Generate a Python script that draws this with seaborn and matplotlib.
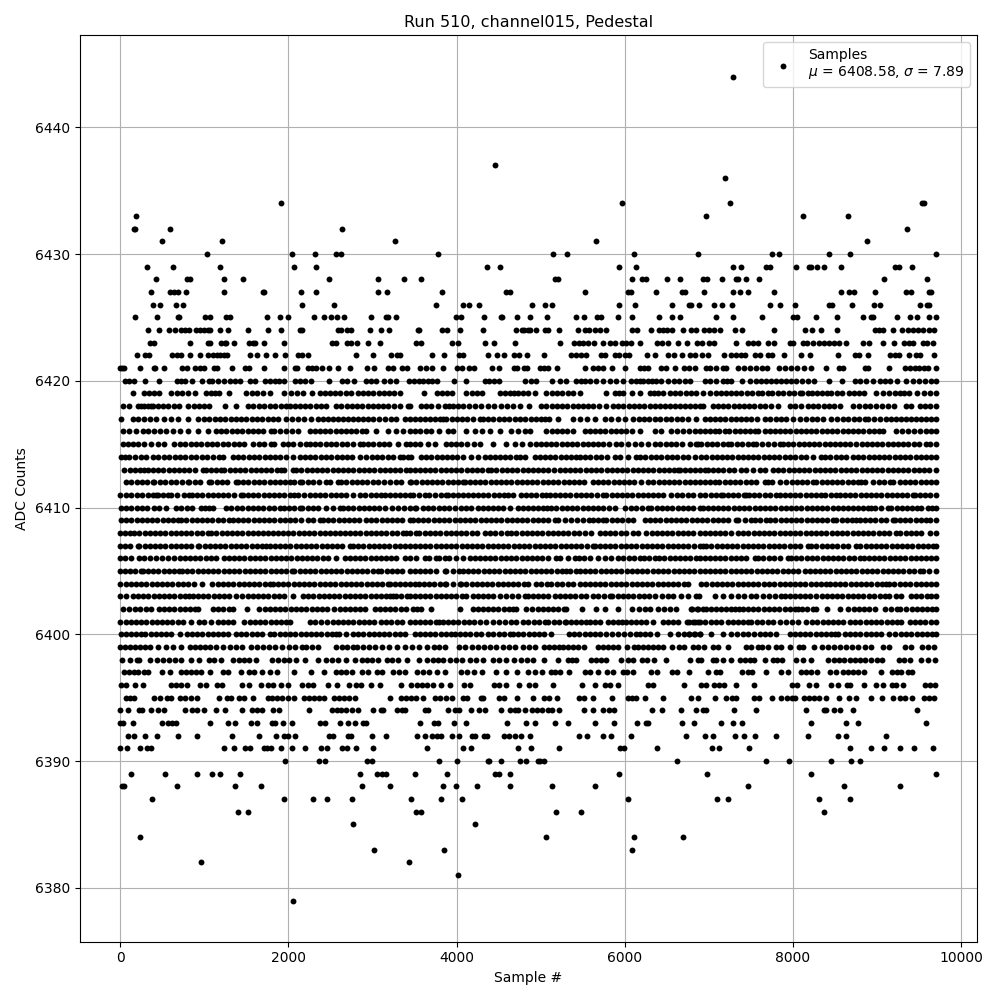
import matplotlib
matplotlib.use("Agg")
import matplotlib.pyplot as plt
import seaborn as sns
import pandas as pd

# sample numbers, one list per ADC level
level_outer = {
    6444: [7286],
    6437: [4462],
    6436: [7191],
    6434: [1914, 5964, 7251, 9537, 9561],
    6433: [187, 6965, 8120, 8656],
    6432: [159, 179, 592, 2640, 9359],
    6431: [496, 1211, 3271, 5655, 8882],
    6430: [1032, 2045, 2318, 2569, 2620, 3783, 5142, 5309, 6107, 6869, 7751, 7834, 8430, 8680, 9700],
    6429: [318, 627, 1187, 2068, 2330, 4367, 4522, 5929, 6131, 7286, 7382, 7679, 7727, 8037, 8191, 8215, 8287, 8370, 8573, 9216, 9263, 9418],
    6428: [425, 794, 834, 1235, 1461, 2485, 3069, 3378, 3581, 5166, 5202, 6083, 6202, 6250, 6500, 6655, 6929, 6977, 7155, 7322, 7346, 7441, 7596, 9085, 9597],
    6427: [365, 592, 639, 687, 782, 1235, 1695, 1715, 2152, 2330, 3069, 3176, 3831, 4593, 4641, 5524, 6036, 6071, 6369, 6679, 6715, 6941, 7286, 7370, 7465, 7775, 8573, 8668, 8727, 8978, 9347, 9406, 9620, 9644],
    6426: [389, 472, 663, 746, 2164, 2545, 3760, 4081, 4153, 4272, 4903, 5047, 5131, 5929, 6119, 6560, 6762, 6786, 6881, 7060, 7155, 7274, 7727, 7846, 8025, 8430, 8465, 8704, 8966, 9037, 9513, 9597, 9620],
    6425: [175, 437, 687, 699, 1008, 1068, 1258, 1310, 1747, 1902, 1997, 2307, 2426, 2509, 2581, 2664, 2985, 3164, 3188, 3283, 3998, 4057, 4331, 4534, 4546, 4724, 4879, 5071, 5416, 5512, 5666, 5714, 5917, 6083, 6405, 6560, 6655, 7084, 7286, 7632, 8001, 8048, 8275, 8525, 8835, 8930, 8954, 9240, 9394, 9478, 9620, 9700],
    6424: [330, 461, 580, 651, 723, 770, 818, 901, 949, 996, 1044, 1068, 1187, 1282, 1521, 1759, 1914, 2140, 2164, 2592, 2628, 2700, 2747, 2974, 3104, 3200, 3545, 3557, 3831, 3891, 4045, 4319, 4712, 4784, 4808, 4855, 4879, 4950, 5047, 5083, 5214, 5440, 5524, 5571, 5643, 5702, 5774, 6083, 6143, 6310, 6405, 6453, 6500, 6560, 6691, 6786, 6846, 6941, 7000, 7060, 7131, 7310, 7394, 7775, 8144, 8227, 8334, 8525, 8978, 9025, 9073, 9192, 9299, 9370, 9430, 9490, 9549, 9620, 9680],
    6423: [349, 397, 830, 1044, 1068, 1199, 1247, 1258, 1354, 1532, 1580, 1604, 1711, 1949, 2521, 2569, 2700, 2747, 2819, 2950, 3093, 3521, 3581, 3950, 4021, 4343, 4450, 4700, 5226, 5393, 5452, 5500, 5559, 5631, 5738, 5821, 5881, 5964, 6012, 6071, 6179, 6381, 6441, 6512, 6631, 6738, 6857, 6917, 7000, 7060, 7322, 7465, 7524, 7584, 7703, 7775, 7965, 8001, 8120, 8168, 8239, 8310, 8370, 8430, 8489, 8549, 8632, 8835, 8906, 9073, 9204, 9323, 9382, 9430, 9549, 9597, 9668],
    6422: [199, 294, 341, 615, 675, 723, 830, 949, 1044, 1104, 1151, 1187, 1235, 1270, 1544, 1628, 1735, 1842, 1961, 2116, 2164, 2235, 2807, 3009, 3224, 3295, 3331, 3712, 3855, 4033, 4081, 4379, 4486, 4569, 4688, 4748, 4843, 5035, 5357, 5416, 5476, 5536, 5714, 5762, 5881, 5929, 6000, 6048, 6262, 6357, 6512, 6584, 6679, 6774, 6834, 6917, 6989, 7179, 7262, 7322, 7382, 7429, 7548, 7608, 7703, 7751, 7894, 8096, 8203, 8537, 8739, 8787, 8894, 9156, 9216, 9263, 9382, 9466, 9513, 9680],
    6421: [0, 24, 48, 234, 397, 417, 520, 734, 794, 889, 949, 996, 1115, 1151, 1326, 1481, 1532, 1711, 1949, 2080, 2104, 2235, 2283, 2330, 2402, 2485, 2592, 2735, 2938, 3021, 3188, 3247, 3355, 3414, 3569, 3640, 3712, 3843, 4010, 4069, 4149, 4208, 4427, 4510, 4688, 4724, 4808, 4843, 4996, 5043, 5091, 5190, 5524, 5619, 5678, 5738, 5845, 6000, 6179, 6226, 6274, 6429, 6488, 6596, 6703, 6762, 6834, 6965, 7012, 7084, 7167, 7203, 7346, 7417, 7489, 7560, 7632, 7691, 7834, 7906, 7977, 8048, 8132, 8215, 8394, 8549, 8596, 8858, 8894, 9144, 9335, 9394, 9454, 9501, 9561, 9609, 9700],
    6399: [0, 60, 119, 178, 238, 298, 357, 449, 544, 627, 723, 830, 889, 949, 1008, 1068, 1139, 1223, 1306, 1377, 1449, 1556, 1628, 1699, 1771, 1846, 1925, 2005, 2084, 2156, 2211, 2283, 2354, 2569, 2640, 2700, 2771, 2819, 2890, 2962, 3033, 3116, 3200, 3295, 3390, 3474, 3557, 3652, 3736, 3795, 3867, 4033, 4105, 4188, 4260, 4331, 4403, 4474, 4557, 4629, 4700, 4796, 4867, 4939, 5035, 5095, 5155, 5214, 5262, 5321, 5381, 5440, 5512, 5678, 5738, 5797, 5857, 5917, 6024, 6107, 6155, 6214, 6274, 6333, 6393, 6453, 6560, 6643, 6703, 6810, 6869, 6941, 7048, 7108, 7227, 7441, 7501, 7584, 7632, 7703, 7798, 7858, 7965, 8072, 8120, 8251, 8346, 8418, 8489, 8561, 8632, 8704, 8775, 8858, 8930, 9073, 9144, 9335, 9406, 9537, 9609, 9680],
    6398: [20, 115, 199, 222, 353, 437, 508, 580, 651, 723, 842, 937, 1056, 1115, 1199, 1342, 1413, 1473, 1532, 1616, 1806, 1878, 1949, 2009, 2092, 2203, 2354, 2449, 2521, 2592, 2688, 2795, 2878, 2938, 2997, 3069, 3176, 3235, 3307, 3414, 3557, 3652, 3724, 3783, 3843, 3926, 3998, 4069, 4165, 4236, 4319, 4438, 4510, 4593, 4680, 4772, 4843, 4915, 5035, 5202, 5321, 5369, 5416, 5595, 5655, 5714, 5774, 5952, 6036, 6095, 6202, 6262, 6345, 6488, 6774, 6869, 6905, 7048, 7084, 7167, 7262, 7370, 7429, 7489, 7536, 7667, 7763, 7810, 7870, 8037, 8120, 8215, 8418, 8489, 8549, 8608, 8680, 8739, 8799, 8858, 8930, 9001, 9061, 9263, 9323, 9394, 9525, 9609, 9692],
    6397: [44, 99, 163, 210, 282, 330, 496, 592, 723, 782, 842, 901, 961, 1068, 1223, 1282, 1433, 1532, 1592, 1687, 1783, 1862, 2064, 2267, 2426, 2569, 2628, 2688, 2759, 2878, 2950, 3057, 3116, 3247, 3319, 3390, 3533, 3605, 3676, 3771, 3867, 4057, 4129, 4212, 4307, 4474, 4593, 4724, 4855, 4939, 5015, 5119, 5166, 5226, 5333, 5524, 5583, 5678, 5786, 5857, 5976, 6024, 6095, 6310, 6381, 6560, 6619, 6762, 6989, 7084, 7131, 7394, 7465, 7512, 7679, 7858, 7941, 8096, 8156, 8215, 8287, 8442, 8513, 8597, 8656, 8716, 8775, 8847, 9049, 9180, 9240, 9287, 9371, 9418],
    6396: [8, 67, 175, 270, 603, 663, 723, 794, 949, 1020, 1151, 1211, 1449, 1532, 1675, 1759, 1818, 1914, 1997, 2164, 2235, 2295, 2473, 2581, 2723, 2807, 2866, 2985, 3093, 3343, 3462, 3533, 3593, 3652, 3724, 3819, 3926, 4093, 4165, 4450, 4510, 4593, 4748, 4867, 4939, 5142, 5488, 5643, 5762, 5821, 5917, 6274, 6333, 6703, 6905, 6965, 7060, 7120, 7179, 7322, 7536, 7989, 8048, 8191, 8275, 8453, 8537, 8644, 8680, 8847, 8990, 9073, 9180, 9228, 9311, 9573, 9632, 9692],
    6395: [67, 115, 163, 401, 472, 556, 603, 711, 770, 842, 913, 1175, 1270, 1318, 1413, 1473, 1580, 1759, 1806, 1866, 1925, 1997, 2068, 2187, 2247, 2307, 2366, 2426, 2545, 2604, 2664, 2724, 2795, 3212, 3343, 3402, 3462, 3521, 3605, 3748, 3807, 3879, 3950, 4081, 4129, 4296, 4319, 4510, 4569, 4724, 4915, 5035, 5095, 5190, 5452, 5512, 5619, 5845, 6036, 6083, 6131, 6238, 6453, 6786, 6869, 7072, 7203, 7274, 7322, 7536, 7596, 7751, 7858, 7929, 7989, 8025, 8132, 8191, 8251, 8310, 8394, 8549, 8668, 8751, 8930, 9061, 9192, 9275, 9335, 9418, 9561, 9620, 9680],
    6394: [0, 91, 222, 258, 365, 449, 520, 770, 853, 913, 996, 1139, 1247, 1449, 1568, 1628, 1687, 1818, 1890, 2243, 2521, 2581, 2628, 2688, 2759, 2831, 3009, 3104, 3128, 3295, 3355, 3390, 3629, 3664, 3902, 3986, 4033, 4176, 4272, 4343, 4534, 4641, 4700, 4736, 4820, 4903, 4962, 5015, 5083, 5135, 5214, 5512, 5619, 5738, 5809, 5869, 6322, 6441, 6667, 6846, 6929, 6965, 7298, 7560, 8156, 8370, 8394, 8489, 8561, 8716, 9478],
    6393: [0, 32, 151, 496, 568, 615, 663, 1068, 1282, 1366, 1556, 1628, 1806, 1842, 1937, 2045, 2378, 2438, 2616, 2712, 2795, 2890, 2926, 3565, 3736, 3783, 3974, 4117, 4605, 4832, 4939, 5166, 5321, 5643, 5869, 6143, 6250, 6274, 6679, 6822, 7143, 7286, 7394, 8215, 8632, 8775, 9585],
    6392: [91, 163, 294, 437, 687, 913, 1330, 1651, 1854, 1949, 1997, 2080, 2485, 2533, 2712, 2747, 2997, 3164, 3533, 3629, 3712, 3771, 3819, 3950, 4033, 4188, 4224, 4331, 4367, 4569, 4629, 4700, 4772, 4879, 5452, 5547, 5738, 5833, 6071, 6727, 6953, 7048, 7310, 7417, 7548, 7798, 8179, 8537, 8632, 9109],
    6391: [0, 79, 234, 318, 365, 1235, 1354, 1485, 1544, 1711, 1747, 1794, 1906, 2045, 2199, 2390, 2461, 2640, 2700, 2807, 3009, 3652, 4081, 4176, 4736, 4891, 5214, 5940, 5988, 6381, 7036, 7120, 7477, 8680, 8930, 9085, 9275, 9442, 9668],
    6390: [1961, 2366, 2438, 2938, 2997, 3795, 4010, 4379, 4391, 4534, 4760, 4832, 4974, 4996, 5043, 6619, 7679, 7953, 8453, 8692, 8799],
    6389: [127, 532, 913, 1092, 1187, 1425, 2854, 3057, 3116, 3164, 3510, 3891, 4462, 4510, 4641, 5929, 6977, 8215, 9704],
    6388: [24, 48, 675, 1366, 1675, 2878, 3212, 3843, 3998, 4248, 4641, 5131, 5643, 7465, 8608, 9275],
    6387: [377, 1949, 2295, 2461, 2759, 3462, 3819, 4069, 6036, 7096, 7227, 8311, 8680],
    6386: [1401, 1521, 3521, 3581, 5178, 5476, 8370],
    6385: [2771, 4224],
    6384: [234, 5059, 6107, 6691],
    6383: [3021, 3855, 6083],
    6382: [961, 3438],
    6381: [4021],
    6379: [2056],
}

level_6420 = [52, 105, 159, 298, 457, 675, 725, 774, 853, 970, 1052, 1091, 1160, 1230, 1310, 1370, 1429, 1548, 1608, 1727, 1780, 1835, 1886, 1945, 2084, 2140, 2200, 2263, 2485, 2640, 2700, 2779, 2918, 2978, 3037, 3136, 3205, 3275, 3440, 3495, 3551, 3599, 3655, 3710, 3765, 3968, 4111, 4333, 4390, 4447, 4504, 4810, 4889, 4949, 5135, 5234, 5306, 5425, 5480, 5530, 5584, 5655, 5743, 5822, 5901, 5981, 6080, 6130, 6179, 6219, 6272, 6325, 6378, 6437, 6517, 6583, 6649, 6715, 6775, 6950, 7020, 7089, 7168, 7218, 7267, 7394, 7486, 7565, 7620, 7676, 7744, 7804, 7863, 7923, 7982, 8041, 8110, 8179, 8248, 8430, 8585, 8736, 8800, 8870, 8954, 9034, 9094, 9153, 9240, 9352, 9425, 9498, 9570, 9649, 9700]
level_6419 = [155, 286, 345, 405, 465, 603, 670, 735, 802, 885, 1020, 1073, 1126, 1179, 1290, 1497, 1563, 1629, 1695, 1783, 1953, 2026, 2099, 2172, 2279, 2370, 2430, 2490, 2549, 2608, 2688, 2747, 2827, 2886, 2950, 3012, 3074, 3136, 3198, 3260, 3323, 3607, 3766, 3827, 3888, 3948, 4115, 4178, 4241, 4305, 4520, 4575, 4631, 4679, 4736, 4793, 4849, 4929, 5068, 5131, 5194, 5257, 5320, 5385, 5473, 5782, 5882, 5931, 5981, 6092, 6179, 6298, 6348, 6398, 6457, 6537, 6600, 6664, 6728, 6790, 6850, 6930, 7017, 7081, 7142, 7204, 7265, 7327, 7386, 7452, 7518, 7585, 7636, 7704, 7756, 7821, 7886, 7951, 8016, 8081, 8113, 8180, 8232, 8290, 8348, 8407, 8458, 8523, 8589, 8669, 8727, 8785, 8843, 8994, 9074, 9144, 9213, 9272, 9328, 9383, 9478, 9558, 9630, 9700]
level_6418 = [28, 107, 206, 246, 286, 325, 365, 385, 445, 505, 565, 640, 703, 802, 881, 941, 1000, 1060, 1250, 1378, 1517, 1583, 1649, 1715, 1775, 1841, 1907, 1973, 2013, 2075, 2138, 2200, 2262, 2325, 2387, 2450, 2569, 2631, 2693, 2755, 2817, 2879, 2941, 3003, 3065, 3124, 3190, 3256, 3323, 3422, 3452, 3579, 3638, 3698, 3777, 3857, 3910, 3963, 4016, 4075, 4145, 4214, 4294, 4373, 4444, 4532, 4600, 4671, 4758, 4861, 5008, 5070, 5132, 5194, 5256, 5318, 5380, 5442, 5504, 5566, 5628, 5690, 5782, 5862, 5924, 5986, 6048, 6110, 6172, 6234, 6296, 6358, 6418, 6477, 6537, 6597, 6657, 6717, 6777, 6837, 6894, 6930, 7049, 7110, 7172, 7234, 7296, 7358, 7420, 7482, 7544, 7605, 7664, 7744, 7823, 7962, 8031, 8101, 8180, 8240, 8303, 8366, 8430, 8494, 8558, 8716, 8785, 8855, 8915, 8986, 9058, 9130, 9201, 9352, 9411, 9510, 9570, 9635, 9700]
level_6417 = [8, 147, 215, 283, 351, 425, 524, 603, 683, 802, 921, 1000, 1060, 1123, 1186, 1249, 1312, 1375, 1438, 1501, 1564, 1627, 1690, 1752, 1814, 1874, 1973, 2045, 2118, 2191, 2264, 2350, 2410, 2470, 2530, 2590, 2650, 2710, 2770, 2830, 2890, 2946, 3005, 3075, 3145, 3215, 3283, 3382, 3442, 3500, 3560, 3620, 3680, 3740, 3800, 3837, 3877, 3940, 4003, 4066, 4129, 4192, 4274, 4313, 4376, 4439, 4502, 4565, 4628, 4691, 4754, 4817, 4880, 4943, 5006, 5048, 5099, 5207, 5385, 5470, 5555, 5643, 5762, 5842, 5922, 6001, 6100, 6165, 6230, 6295, 6360, 6425, 6490, 6555, 6620, 6685, 6750, 6854, 6950, 7012, 7074, 7136, 7198, 7260, 7322, 7384, 7446, 7508, 7570, 7664, 7724, 7795, 7863, 7922, 8000, 8081, 8160, 8226, 8292, 8359, 8458, 8525, 8592, 8659, 8726, 8793, 8855, 8895, 8968, 9040, 9113, 9173, 9232, 9292, 9352, 9410, 9468, 9526, 9584, 9642, 9700]
level_6416 = [28, 107, 187, 266, 335, 405, 474, 544, 623, 712, 802, 921, 1040, 1139, 1199, 1262, 1325, 1388, 1451, 1514, 1577, 1640, 1695, 1794, 1834, 1894, 1967, 2040, 2112, 2251, 2313, 2375, 2437, 2499, 2561, 2623, 2685, 2747, 2809, 2871, 2926, 3045, 3184, 3283, 3362, 3442, 3500, 3570, 3640, 3698, 3797, 3897, 3956, 4107, 4214, 4303, 4393, 4512, 4651, 4730, 4810, 4877, 5068, 5130, 5192, 5254, 5316, 5385, 5524, 5586, 5648, 5710, 5772, 5834, 5896, 5958, 6020, 6082, 6179, 6358, 6437, 6556, 6625, 6690, 6760, 6831, 6894, 6950, 7010, 7069, 7128, 7188, 7247, 7307, 7367, 7427, 7487, 7545, 7585, 7664, 7724, 7786, 7848, 7910, 7972, 8034, 8096, 8158, 8220, 8282, 8344, 8406, 8468, 8530, 8592, 8654, 8716, 8778, 8840, 8902, 8964, 9026, 9074, 9232, 9300, 9370, 9440, 9510, 9590, 9649, 9700]
level_6415 = [28, 87, 147, 215, 286, 365, 445, 524, 643, 707, 771, 835, 899, 963, 1027, 1091, 1155, 1219, 1283, 1347, 1411, 1477, 1577, 1645, 1715, 1794, 1834, 1933, 1993, 2052, 2132, 2211, 2251, 2315, 2379, 2443, 2507, 2571, 2635, 2699, 2763, 2847, 2886, 2946, 3010, 3074, 3138, 3202, 3303, 3402, 3442, 3500, 3567, 3658, 3738, 3877, 3936, 3995, 4055, 4123, 4202, 4282, 4432, 4591, 4691, 4780, 4869, 4941, 5003, 5065, 5127, 5189, 5251, 5313, 5375, 5437, 5499, 5561, 5623, 5685, 5747, 5809, 5901, 5961, 6040, 6120, 6200, 6279, 6358, 6425, 6490, 6556, 6616, 6680, 6775, 6874, 6850, 6913, 6976, 7039, 7102, 7165, 7228, 7267, 7332, 7397, 7462, 7525, 7565, 7635, 7705, 7775, 7843, 7883, 7945, 8007, 8069, 8131, 8193, 8255, 8317, 8379, 8441, 8503, 8565, 8627, 8677, 8756, 8818, 8880, 8942, 9004, 9066, 9128, 9190, 9252, 9314, 9376, 9438, 9500, 9590, 9630, 9700]
level_6414 = [8, 57, 107, 179, 246, 306, 385, 450, 515, 580, 645, 710, 775, 840, 905, 970, 1035, 1100, 1179, 1219, 1338, 1401, 1464, 1527, 1590, 1653, 1716, 1779, 1842, 1905, 1973, 2052, 2132, 2195, 2258, 2321, 2384, 2447, 2510, 2573, 2636, 2699, 2762, 2847, 2926, 2990, 3054, 3118, 3182, 3246, 3323, 3362, 3422, 3460, 3579, 3638, 3700, 3762, 3824, 3886, 3948, 4010, 4075, 4174, 4253, 4333, 4393, 4455, 4517, 4579, 4641, 4703, 4750, 4810, 4929, 4991, 5053, 5115, 5177, 5239, 5301, 5363, 5425, 5465, 5524, 5590, 5655, 5720, 5785, 5881, 5941, 6040, 6140, 6179, 6245, 6310, 6378, 6437, 6500, 6563, 6626, 6689, 6752, 6834, 6910, 6972, 7034, 7096, 7158, 7220, 7282, 7344, 7406, 7468, 7530, 7592, 7654, 7716, 7778, 7840, 7902, 7964, 8026, 8101, 8160, 8240, 8339, 8379, 8445, 8511, 8577, 8637, 8716, 8778, 8840, 8902, 8964, 9026, 9088, 9150, 9212, 9274, 9336, 9398, 9460, 9522, 9584, 9646, 9700]
level_6413 = [48, 110, 172, 234, 286, 326, 388, 450, 512, 574, 636, 698, 760, 822, 884, 981, 1020, 1080, 1140, 1199, 1239, 1301, 1363, 1425, 1487, 1549, 1611, 1673, 1735, 1797, 1859, 1914, 1953, 2052, 2092, 2154, 2216, 2278, 2340, 2402, 2464, 2526, 2588, 2650, 2712, 2774, 2836, 2898, 2960, 3022, 3084, 3146, 3208, 3270, 3332, 3402, 3442, 3500, 3562, 3624, 3686, 3748, 3810, 3872, 3934, 3996, 4058, 4120, 4182, 4244, 4306, 4373, 4413, 4475, 4537, 4599, 4661, 4723, 4785, 4847, 4909, 4971, 5033, 5088, 5155, 5226, 5288, 5350, 5412, 5474, 5536, 5598, 5660, 5722, 5784, 5846, 5908, 5970, 6032, 6094, 6156, 6218, 6280, 6342, 6404, 6466, 6528, 6590, 6636, 6656, 6718, 6780, 6842, 6894, 6950, 6989, 7051, 7113, 7175, 7237, 7299, 7386, 7446, 7525, 7605, 7664, 7764, 7826, 7888, 7950, 8012, 8074, 8136, 8198, 8260, 8322, 8384, 8446, 8508, 8570, 8632, 8694, 8756, 8818, 8880, 8942, 9004, 9066, 9128, 9190, 9252, 9314, 9376, 9438, 9500, 9562, 9624, 9700]
level_6412 = [67, 130, 193, 256, 319, 385, 405, 470, 535, 600, 665, 730, 802, 822, 885, 948, 1060, 1080, 1145, 1210, 1275, 1378, 1397, 1460, 1523, 1586, 1649, 1712, 1775, 1838, 1901, 1964, 2013, 2072, 2132, 2164, 2230, 2296, 2362, 2450, 2490, 2588, 2628, 2690, 2752, 2814, 2876, 2938, 3005, 3065, 3135, 3205, 3283, 3343, 3442, 3460, 3522, 3584, 3646, 3708, 3770, 3832, 3894, 3956, 4018, 4075, 4095, 4157, 4219, 4281, 4343, 4405, 4467, 4529, 4591, 4653, 4715, 4777, 4839, 4901, 4963, 5025, 5087, 5149, 5211, 5273, 5335, 5397, 5459, 5521, 5624, 5683, 5745, 5807, 5869, 5931, 5993, 6055, 6117, 6199, 6279, 6341, 6403, 6465, 6527, 6589, 6651, 6713, 6775, 6837, 6894, 6950, 7010, 7069, 7128, 7190, 7252, 7314, 7376, 7438, 7500, 7562, 7664, 7704, 7756, 7843, 7922, 7985, 8048, 8111, 8174, 8240, 8280, 8342, 8404, 8466, 8528, 8590, 8652, 8714, 8776, 8815, 8855, 8954, 9020, 9086, 9152, 9193, 9272, 9334, 9396, 9458, 9520, 9582, 9644, 9700]
level_6411 = [0, 65, 130, 195, 260, 325, 390, 425, 445, 505, 564, 603, 680, 760, 822, 853, 915, 977, 1039, 1101, 1163, 1225, 1287, 1349, 1437, 1457, 1519, 1581, 1643, 1705, 1767, 1829, 1891, 1953, 2015, 2072, 2112, 2191, 2253, 2315, 2377, 2439, 2501, 2563, 2625, 2687, 2767, 2847, 2912, 2977, 3042, 3105, 3144, 3206, 3268, 3330, 3392, 3442, 3480, 3559, 3619, 3678, 3745, 3812, 3877, 3897, 3957, 4017, 4077, 4135, 4194, 4256, 4318, 4380, 4442, 4504, 4566, 4611, 4671, 4770, 4830, 4889, 4950, 5011, 5068, 5107, 5169, 5231, 5293, 5355, 5417, 5479, 5541, 5603, 5665, 5743, 5782, 5844, 5906, 5968, 6030, 6092, 6154, 6216, 6278, 6340, 6402, 6457, 6556, 6620, 6684, 6748, 6812, 6894, 6960, 7024, 7088, 7148, 7168, 7230, 7292, 7354, 7416, 7446, 7478, 7541, 7604, 7667, 7730, 7803, 7843, 7905, 7967, 8029, 8091, 8153, 8215, 8277, 8339, 8379, 8450, 8518, 8558, 8620, 8682, 8744, 8806, 8868, 8930, 8992, 9054, 9116, 9178, 9240, 9302, 9364, 9431, 9451, 9513, 9575, 9637, 9700]
level_6410 = [8, 67, 130, 193, 256, 319, 405, 465, 544, 663, 726, 790, 854, 961, 1004, 1050, 1100, 1258, 1322, 1386, 1450, 1514, 1576, 1636, 1700, 1767, 1826, 1894, 1953, 2012, 2072, 2132, 2164, 2230, 2296, 2350, 2442, 2525, 2608, 2648, 2710, 2772, 2834, 2896, 2958, 3020, 3082, 3144, 3236, 3305, 3374, 3442, 3500, 3520, 3599, 3662, 3725, 3788, 3851, 3914, 3976, 4055, 4115, 4174, 4254, 4314, 4374, 4434, 4492, 4552, 4641, 4730, 4790, 4850, 4910, 4970, 5028, 5076, 5127, 5189, 5251, 5313, 5375, 5437, 5499, 5561, 5623, 5685, 5747, 5809, 5881, 6001, 6070, 6139, 6208, 6279, 6319, 6381, 6443, 6505, 6567, 6629, 6691, 6753, 6815, 6894, 6930, 6989, 7049, 7111, 7173, 7235, 7297, 7359, 7421, 7483, 7545, 7607, 7669, 7731, 7793, 7855, 7917, 7979, 8041, 8103, 8165, 8227, 8289, 8351, 8413, 8475, 8538, 8597, 8656, 8715, 8775, 8835, 8895, 8935, 8974, 9053, 9133, 9173, 9235, 9297, 9359, 9421, 9483, 9530, 9610, 9660, 9700]
level_6409 = [8, 70, 132, 194, 256, 318, 380, 442, 504, 566, 628, 683, 723, 785, 847, 909, 971, 1033, 1095, 1157, 1219, 1298, 1338, 1400, 1462, 1524, 1586, 1648, 1710, 1772, 1834, 1896, 1958, 2020, 2082, 2144, 2231, 2291, 2370, 2410, 2472, 2534, 2596, 2658, 2720, 2782, 2844, 2926, 2985, 3047, 3109, 3171, 3233, 3295, 3357, 3442, 3480, 3542, 3604, 3666, 3728, 3790, 3852, 3914, 3976, 4038, 4100, 4162, 4224, 4286, 4348, 4410, 4472, 4534, 4596, 4658, 4720, 4782, 4844, 4906, 4968, 5030, 5092, 5167, 5207, 5286, 5365, 5435, 5504, 5576, 5624, 5684, 5743, 5782, 5846, 5910, 5974, 6038, 6100, 6239, 6301, 6363, 6425, 6487, 6549, 6611, 6673, 6735, 6797, 6859, 6921, 6983, 7045, 7107, 7169, 7231, 7327, 7347, 7426, 7505, 7545, 7615, 7684, 7724, 7790, 7856, 7922, 7982, 8041, 8103, 8165, 8227, 8289, 8351, 8413, 8478, 8518, 8580, 8642, 8704, 8756, 8796, 8858, 8920, 8982, 9044, 9106, 9193, 9213, 9275, 9337, 9399, 9461, 9523, 9590, 9630, 9700]
level_6408 = [0, 55, 110, 167, 226, 288, 350, 412, 474, 536, 598, 660, 722, 784, 846, 908, 970, 1040, 1080, 1142, 1204, 1266, 1328, 1390, 1452, 1517, 1576, 1636, 1696, 1756, 1814, 1874, 1936, 1998, 2060, 2122, 2184, 2246, 2308, 2370, 2432, 2494, 2549, 2608, 2670, 2732, 2794, 2856, 2918, 2980, 3042, 3104, 3166, 3228, 3290, 3363, 3402, 3442, 3520, 3559, 3621, 3683, 3745, 3807, 3869, 3931, 3993, 4055, 4117, 4179, 4241, 4333, 4393, 4461, 4529, 4597, 4651, 4711, 4773, 4835, 4897, 4959, 5021, 5083, 5145, 5207, 5269, 5331, 5393, 5455, 5524, 5604, 5703, 5765, 5827, 5889, 5951, 6013, 6100, 6159, 6259, 6321, 6383, 6445, 6507, 6569, 6631, 6693, 6755, 6817, 6894, 6950, 7012, 7074, 7136, 7198, 7260, 7347, 7409, 7471, 7533, 7595, 7657, 7719, 7781, 7843, 7905, 7967, 8029, 8091, 8153, 8215, 8277, 8339, 8401, 8463, 8525, 8587, 8649, 8711, 8773, 8835, 8897, 8959, 9021, 9083, 9145, 9232, 9280, 9342, 9404, 9466, 9528, 9630, 9700]
level_6407 = [0, 60, 120, 206, 226, 288, 350, 412, 474, 536, 598, 660, 722, 784, 846, 921, 941, 1003, 1065, 1127, 1189, 1251, 1313, 1375, 1437, 1499, 1561, 1623, 1685, 1735, 1775, 1837, 1899, 1961, 2023, 2085, 2147, 2209, 2271, 2333, 2395, 2457, 2519, 2581, 2643, 2727, 2767, 2829, 2891, 2953, 3015, 3077, 3139, 3201, 3263, 3325, 3387, 3442, 3502, 3564, 3626, 3688, 3750, 3812, 3874, 3936, 3998, 4060, 4122, 4184, 4246, 4308, 4370, 4432, 4494, 4556, 4618, 4680, 4742, 4804, 4866, 4928, 4990, 5052, 5114, 5176, 5238, 5300, 5362, 5424, 5486, 5548, 5624, 5643, 5705, 5767, 5829, 5891, 5953, 6015, 6077, 6139, 6201, 6263, 6325, 6387, 6449, 6511, 6573, 6635, 6697, 6759, 6821, 6894, 6930, 6969, 7031, 7093, 7155, 7217, 7279, 7341, 7403, 7465, 7527, 7589, 7651, 7713, 7775, 7837, 7899, 7961, 8023, 8085, 8180, 8220, 8282, 8344, 8406, 8468, 8530, 8592, 8654, 8756, 8804, 8866, 8928, 8990, 9052, 9114, 9176, 9238, 9300, 9362, 9424, 9486, 9548, 9610, 9672, 9700]
level_6406 = [0, 60, 127, 226, 286, 355, 424, 493, 564, 643, 705, 767, 829, 891, 953, 1015, 1077, 1139, 1239, 1298, 1358, 1417, 1477, 1539, 1601, 1663, 1725, 1787, 1849, 1911, 1973, 2035, 2097, 2159, 2221, 2283, 2345, 2407, 2469, 2569, 2668, 2730, 2792, 2854, 2916, 2978, 3040, 3102, 3164, 3226, 3283, 3382, 3442, 3520, 3619, 3678, 3758, 3797, 3857, 3916, 3996, 4076, 4155, 4214, 4276, 4338, 4400, 4462, 4524, 4586, 4651, 4711, 4773, 4835, 4897, 4959, 5021, 5083, 5187, 5234, 5320, 5405, 5457, 5520, 5584, 5683, 5763, 5842, 5921, 5985, 6049, 6113, 6179, 6227, 6292, 6358, 6410, 6472, 6534, 6596, 6658, 6720, 6782, 6844, 6894, 6950, 7012, 7074, 7136, 7198, 7260, 7322, 7384, 7446, 7545, 7585, 7650, 7715, 7780, 7845, 7942, 7982, 8042, 8101, 8168, 8230, 8292, 8354, 8416, 8478, 8540, 8602, 8664, 8726, 8804, 8843, 8905, 8967, 9029, 9091, 9153, 9215, 9277, 9339, 9401, 9463, 9525, 9587, 9649, 9700]
level_6405 = [0, 60, 120, 180, 246, 266, 328, 390, 452, 514, 576, 638, 703, 734, 796, 858, 920, 982, 1044, 1106, 1168, 1230, 1292, 1354, 1416, 1478, 1540, 1602, 1664, 1726, 1788, 1850, 1912, 1974, 2045, 2072, 2134, 2196, 2258, 2320, 2382, 2444, 2506, 2568, 2630, 2692, 2754, 2816, 2878, 2940, 3002, 3065, 3105, 3167, 3229, 3291, 3353, 3442, 3502, 3564, 3626, 3688, 3750, 3857, 3877, 3952, 4028, 4075, 4137, 4199, 4261, 4323, 4385, 4447, 4509, 4571, 4633, 4695, 4757, 4819, 4881, 4943, 5005, 5067, 5129, 5191, 5253, 5306, 5345, 5425, 5465, 5527, 5589, 5651, 5713, 5775, 5837, 5899, 5961, 6023, 6085, 6147, 6209, 6271, 6333, 6395, 6457, 6519, 6581, 6643, 6705, 6767, 6829, 6894, 6950, 7012, 7074, 7136, 7198, 7260, 7322, 7384, 7446, 7508, 7570, 7632, 7694, 7756, 7818, 7880, 7942, 8004, 8066, 8141, 8200, 8262, 8324, 8386, 8448, 8510, 8572, 8634, 8696, 8758, 8820, 8882, 8944, 9006, 9068, 9130, 9192, 9254, 9316, 9378, 9440, 9510, 9550, 9625, 9700]
level_6404 = [0, 62, 124, 186, 248, 310, 372, 434, 496, 558, 620, 682, 744, 806, 881, 973, 1092, 1159, 1221, 1283, 1345, 1407, 1469, 1531, 1593, 1655, 1717, 1775, 1814, 1876, 1938, 2000, 2062, 2124, 2186, 2248, 2310, 2372, 2434, 2496, 2558, 2620, 2682, 2744, 2806, 2868, 2930, 2992, 3054, 3116, 3184, 3204, 3266, 3328, 3390, 3442, 3500, 3551, 3613, 3675, 3737, 3799, 3857, 3877, 3957, 4036, 4055, 4117, 4179, 4241, 4303, 4365, 4427, 4489, 4551, 4613, 4675, 4737, 4799, 4849, 4941, 5008, 5076, 5127, 5192, 5257, 5322, 5387, 5465, 5524, 5586, 5648, 5710, 5772, 5834, 5896, 5958, 6020, 6082, 6144, 6206, 6268, 6330, 6392, 6454, 6516, 6578, 6640, 6702, 6755, 6910, 6972, 7034, 7096, 7158, 7220, 7282, 7344, 7406, 7468, 7530, 7592, 7654, 7716, 7778, 7843, 7902, 7964, 8026, 8088, 8150, 8212, 8274, 8336, 8399, 8439, 8501, 8563, 8625, 8687, 8749, 8811, 8873, 8935, 8997, 9059, 9113, 9145, 9210, 9275, 9340, 9399, 9463, 9525, 9587, 9649, 9700]
level_6403 = [0, 67, 147, 209, 271, 333, 395, 457, 519, 581, 643, 705, 767, 822, 861, 923, 985, 1047, 1109, 1171, 1233, 1295, 1378, 1449, 1517, 1576, 1638, 1700, 1762, 1824, 1886, 1948, 2052, 2172, 2234, 2296, 2358, 2420, 2482, 2544, 2606, 2668, 2730, 2792, 2854, 2916, 2978, 3040, 3102, 3164, 3204, 3244, 3283, 3345, 3407, 3442, 3502, 3564, 3626, 3688, 3750, 3812, 3874, 3936, 3998, 4060, 4115, 4194, 4254, 4314, 4374, 4433, 4512, 4587, 4662, 4737, 4810, 4849, 4910, 4971, 5032, 5088, 5167, 5229, 5291, 5353, 5415, 5477, 5539, 5624, 5683, 5752, 5822, 5854, 5921, 5981, 6043, 6105, 6167, 6229, 6291, 6358, 6449, 6512, 6576, 6676, 6755, 6854, 6882, 7069, 7168, 7267, 7345, 7425, 7505, 7565, 7644, 7717, 7790, 7863, 7902, 7962, 8022, 8081, 8141, 8200, 8280, 8342, 8404, 8466, 8528, 8590, 8652, 8716, 8776, 8840, 8904, 8968, 9032, 9093, 9145, 9232, 9292, 9411, 9471, 9530, 9598, 9650, 9700]
level_6402 = [28, 107, 179, 240, 301, 365, 457, 519, 581, 643, 705, 767, 829, 891, 921, 1100, 1160, 1225, 1290, 1346, 1505, 1655, 1717, 1779, 1841, 1903, 1965, 2027, 2089, 2151, 2213, 2275, 2337, 2399, 2461, 2537, 2608, 2668, 2728, 2788, 2847, 2910, 3025, 3087, 3149, 3211, 3273, 3335, 3402, 3480, 3530, 3579, 3698, 4036, 4194, 4254, 4313, 4375, 4437, 4499, 4561, 4623, 4671, 4703, 4830, 4900, 4965, 5028, 5088, 5150, 5212, 5274, 5306, 5497, 5655, 5762, 5921, 6092, 6165, 6239, 6298, 6398, 6468, 6537, 6616, 6795, 6874, 6803, 6865, 6930, 6962, 7024, 7086, 7148, 7210, 7267, 7307, 7366, 7406, 7468, 7530, 7592, 7654, 7716, 7778, 7840, 7902, 7964, 8026, 8061, 8113, 8175, 8237, 8280, 8407, 8558, 8657, 8724, 8786, 8848, 8910, 8974, 9093, 9165, 9237, 9272, 9352, 9414, 9476, 9538, 9600, 9662, 9700]
level_6401 = [0, 62, 124, 186, 248, 310, 372, 434, 496, 558, 620, 682, 750, 843, 933, 1000, 1080, 1159, 1219, 1278, 1338, 1477, 1539, 1601, 1663, 1725, 1787, 1849, 1911, 1973, 2013, 2251, 2320, 2389, 2458, 2529, 2588, 2650, 2712, 2774, 2836, 2898, 2960, 3022, 3105, 3164, 3226, 3288, 3350, 3442, 3502, 3564, 3626, 3688, 3750, 3797, 3837, 3899, 3961, 4023, 4085, 4147, 4209, 4274, 4345, 4433, 4503, 4573, 4643, 4711, 4790, 4855, 4920, 4985, 5048, 5088, 5154, 5220, 5286, 5306, 5366, 5426, 5486, 5544, 5584, 5644, 5703, 5802, 5862, 5921, 5971, 6020, 6080, 6140, 6200, 6259, 6338, 6457, 6517, 6577, 6636, 6743, 6808, 6874, 6771, 6834, 6898, 6960, 7022, 7084, 7146, 7228, 7287, 7347, 7407, 7466, 7505, 7570, 7635, 7700, 7764, 7851, 7922, 7993, 8061, 8160, 8225, 8290, 8355, 8419, 8478, 8538, 8597, 8677, 8740, 8803, 8866, 8929, 8994, 9054, 9116, 9178, 9240, 9292, 9391, 9453, 9515, 9577, 9639, 9700]
level_6400 = [8, 68, 128, 188, 246, 298, 360, 422, 484, 546, 603, 711, 790, 852, 914, 976, 1038, 1100, 1162, 1224, 1286, 1378, 1437, 1499, 1561, 1623, 1685, 1775, 1834, 1896, 1958, 2020, 2082, 2144, 2206, 2268, 2330, 2392, 2454, 2516, 2569, 2600, 2688, 2767, 2829, 2891, 2953, 3015, 3077, 3139, 3201, 3263, 3323, 3382, 3500, 3562, 3624, 3686, 3748, 3810, 3872, 3934, 3976, 4036, 4100, 4164, 4228, 4294, 4373, 4438, 4503, 4568, 4631, 4671, 4733, 4795, 4857, 4919, 4981, 5043, 5127, 5338, 5400, 5462, 5524, 5586, 5648, 5710, 5782, 5854, 5925, 5996, 6067, 6140, 6179, 6240, 6298, 6386, 6545, 6636, 6700, 6764, 6828, 6894, 6771, 6835, 6899, 7029, 7168, 7267, 7335, 7403, 7471, 7539, 7605, 7664, 7734, 7803, 7962, 8024, 8086, 8148, 8210, 8272, 8334, 8396, 8458, 8498, 8538, 8617, 8677, 8740, 8803, 8866, 8929, 8992, 9054, 9145, 9215, 9285, 9352, 9411, 9473, 9535, 9597, 9659, 9700]

dense = {
    6420: level_6420, 6419: level_6419, 6418: level_6418, 6417: level_6417,
    6416: level_6416, 6415: level_6415, 6414: level_6414, 6413: level_6413,
    6412: level_6412, 6411: level_6411, 6410: level_6410, 6409: level_6409,
    6408: level_6408, 6407: level_6407, 6406: level_6406, 6405: level_6405,
    6404: level_6404, 6403: level_6403, 6402: level_6402, 6401: level_6401,
    6400: level_6400,
}

rows = []
for level, samples in list(level_outer.items()) + list(dense.items()):
    rows += [(s, level) for s in samples]
df = pd.DataFrame(rows, columns=["sample", "adc"])

fig, ax = plt.subplots(figsize=(10, 10))
sns.scatterplot(data=df, x="sample", y="adc", marker=".", s=72, color="black",
                linewidth=0, zorder=2, ax=ax,
                label="Samples\n$\\mu$ = 6408.58, $\\sigma$ = 7.89")
ax.grid(True)
ax.set_title("Run 510, channel015, Pedestal", fontsize=11.5)
ax.set_xlabel("Sample #")
ax.set_ylabel("ADC Counts")
ax.legend(loc="upper right")
fig.tight_layout()
fig.savefig("out.png", dpi=100)
